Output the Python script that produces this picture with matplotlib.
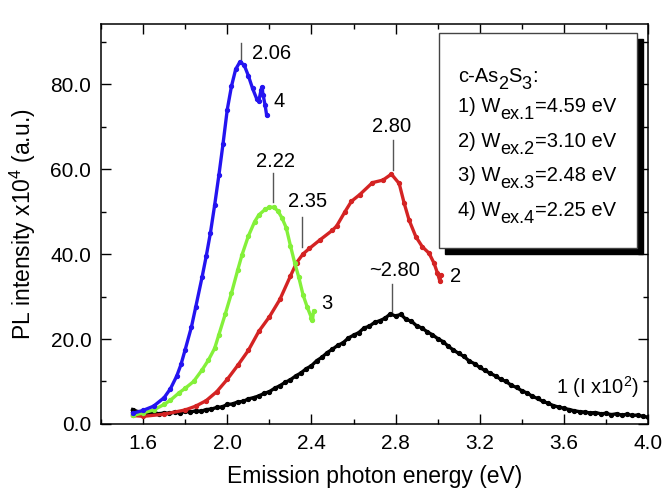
import matplotlib
matplotlib.use("Agg")
import matplotlib.pyplot as plt
from matplotlib.patches import Rectangle
from matplotlib.ticker import MultipleLocator, FormatStrFormatter

plt.rcParams['font.family'] = ['Liberation Sans', 'DejaVu Sans']
plt.rcParams['mathtext.fontset'] = 'custom'
plt.rcParams['mathtext.rm'] = 'Liberation Sans'
plt.rcParams['mathtext.it'] = 'Liberation Sans'
plt.rcParams['mathtext.bf'] = 'Liberation Sans'

# ---- data ----
x1 = [1.550, 1.575, 1.600, 1.625, 1.650, 1.675, 1.700, 1.725, 1.750, 1.775,
      1.800, 1.825, 1.850, 1.875, 1.900, 1.925, 1.950, 1.975, 2.000, 2.025,
      2.050, 2.075, 2.100, 2.125, 2.150, 2.175, 2.200, 2.225, 2.250, 2.275,
      2.300, 2.325, 2.350, 2.375, 2.400, 2.425, 2.450, 2.475, 2.500, 2.525,
      2.550, 2.575, 2.600, 2.625, 2.650, 2.675, 2.700, 2.725, 2.750, 2.775,
      2.800, 2.825, 2.850, 2.875, 2.900, 2.925, 2.950, 2.975, 3.000, 3.025,
      3.050, 3.075, 3.100, 3.125, 3.150, 3.175, 3.200, 3.225, 3.250, 3.275,
      3.300, 3.325, 3.350, 3.375, 3.400, 3.425, 3.450, 3.475, 3.500, 3.525,
      3.550, 3.575, 3.600, 3.625, 3.650, 3.675, 3.700, 3.725, 3.750, 3.775,
      3.800, 3.825, 3.850, 3.875, 3.900, 3.925, 3.950, 3.975, 4.000]
y1 = [3.4, 2.9, 2.7, 2.5, 2.7, 2.4, 2.6, 2.5, 2.8, 2.6,
      3.0, 2.8, 3.1, 3.0, 3.4, 3.5, 3.9, 4.0, 4.6, 4.7,
      5.2, 5.3, 5.9, 6.2, 6.6, 7.2, 7.6, 8.4, 9.0, 9.8,
      10.4, 11.3, 12.0, 13.0, 13.7, 14.9, 15.7, 16.8, 17.6, 18.5,
      19.1, 20.2, 20.9, 21.5, 22.6, 23.0, 23.9, 24.3, 24.9, 25.9,
      25.4, 25.8, 24.6, 24.2, 23.1, 22.6, 21.7, 21.0, 20.1, 19.4,
      18.3, 17.4, 16.6, 15.9, 14.8, 14.2, 13.3, 12.6, 11.9, 11.3,
      10.5, 10.0, 9.1, 8.6, 7.8, 7.3, 6.5, 6.0, 5.3, 4.9,
      4.3, 4.0, 3.7, 3.4, 3.1, 2.9, 2.8, 2.6, 2.7, 2.4,
      2.5, 2.2, 2.4, 2.1, 2.3, 2.0, 2.1, 1.8, 1.6]

x2 = [1.55, 1.60, 1.70, 1.80, 1.85, 1.90, 1.95, 2.00, 2.05, 2.10, 2.15, 2.20,
      2.25, 2.30, 2.33, 2.36, 2.39, 2.44, 2.50, 2.52, 2.56, 2.59, 2.63, 2.69, 2.74, 2.78,
      2.817, 2.841, 2.864, 2.896, 2.927, 2.959, 2.983, 2.999, 3.010, 3.015]
y2 = [2.0, 1.8, 2.3, 3.3, 4.2, 5.5, 7.6, 10.5, 13.8, 17.3, 21.8, 25.2,
      29.3, 34.8, 38.0, 40.0, 41.3, 43.3, 45.6, 46.6, 50.0, 52.4, 54.0, 56.8, 57.4, 58.8,
      56.6, 51.9, 48.0, 44.1, 41.7, 40.2, 37.8, 35.5, 33.7, 35.0]

x3 = [1.55, 1.60, 1.65, 1.70, 1.73, 1.77, 1.80, 1.84, 1.88, 1.91, 1.94, 1.96,
      1.99, 2.02, 2.05, 2.07, 2.10, 2.13, 2.15, 2.18, 2.20, 2.22, 2.24, 2.26,
      2.28, 2.30, 2.32, 2.34, 2.36, 2.38, 2.40, 2.405, 2.41]
y3 = [2.0, 2.6, 3.3, 4.6, 5.6, 7.3, 8.4, 10.0, 12.7, 15.0, 17.8, 21.0,
      25.8, 30.8, 36.3, 39.8, 44.2, 47.6, 49.2, 50.5, 51.0, 51.0, 50.2, 48.5,
      46.2, 42.0, 38.0, 34.5, 30.4, 27.5, 25.0, 24.5, 26.5]

x4 = [1.55, 1.60, 1.65, 1.70, 1.73, 1.76, 1.78, 1.80, 1.83, 1.85, 1.88, 1.90,
      1.92, 1.94, 1.96, 1.98, 2.00, 2.02, 2.04, 2.06, 2.08, 2.10, 2.12, 2.14,
      2.15, 2.16, 2.165, 2.17, 2.18, 2.187]
y4 = [2.5, 3.2, 4.2, 6.2, 8.3, 11.3, 14.0, 17.5, 22.9, 27.5, 34.5, 39.5,
      45.0, 51.5, 58.5, 66.0, 74.0, 79.5, 83.5, 85.2, 84.5, 82.0, 79.0, 76.5,
      76.0, 78.5, 79.2, 77.5, 75.0, 72.7]

# legend text pieces: (text, is_subscript)
legend_title = [("c-As", False), ("2", True), ("S", False), ("3", True), (":", False)]
legend_lines = [
    [("1) W", False), ("ex.1", True), ("=4.59 eV", False)],
    [("2) W", False), ("ex.2", True), ("=3.10 eV", False)],
    [("3) W", False), ("ex.3", True), ("=2.48 eV", False)],
    [("4) W", False), ("ex.4", True), ("=2.25 eV", False)],
]

fig = plt.figure(figsize=(6.62, 4.93), dpi=100)
ax = fig.add_axes([0.1526, 0.140, 0.8264, 0.811])

c_blk = '#000000'
c_red = '#d42323'
c_grn = '#84f03a'
c_blu = '#2414f0'

for xs, ys, c in [(x1, y1, c_blk), (x2, y2, c_red), (x3, y3, c_grn), (x4, y4, c_blu)]:
    ax.plot(xs, ys, '-', color=c, lw=2.4, marker='o', ms=2.8, mec=c, mfc=c, zorder=3)

ax.set_xlim(1.4, 4.0)
ax.set_ylim(0, 94.1)
ax.set_xticks([1.6, 2.0, 2.4, 2.8, 3.2, 3.6, 4.0])
ax.xaxis.set_minor_locator(MultipleLocator(0.2))
ax.yaxis.set_major_locator(MultipleLocator(20))
ax.yaxis.set_minor_locator(MultipleLocator(10))
ax.xaxis.set_major_formatter(FormatStrFormatter('%.1f'))
ax.yaxis.set_major_formatter(FormatStrFormatter('%.1f'))
ax.tick_params(which='both', direction='in', top=True, right=True, labelsize=15, width=1)
ax.tick_params(which='major', length=7, pad=7)
ax.tick_params(which='minor', length=3.5)
for s in ax.spines.values():
    s.set_linewidth(1.1)

ax.set_xlabel("Emission photon energy (eV)", fontsize=16.5, labelpad=9)
ax.set_ylabel(r"PL intensity x10$^4$ (a.u.)", fontsize=16.5, labelpad=9)

# peak annotations
fs_a = 14.5
gl = '#555555'
ax.plot([2.067, 2.067], [86.0, 89.7], color=gl, lw=1)
ax.text(2.116, 87.2, "2.06", fontsize=fs_a, ha='left', va='center')
ax.text(2.248, 75.8, "4", fontsize=fs_a, ha='center', va='center')
ax.plot([2.217, 2.217], [52.3, 59.0], color=gl, lw=1)
ax.text(2.231, 61.8, "2.22", fontsize=fs_a, ha='center', va='center')
ax.plot([2.357, 2.357], [41.7, 48.6], color=gl, lw=1)
ax.text(2.382, 52.3, "2.35", fontsize=fs_a, ha='center', va='center')
ax.text(2.473, 28.4, "3", fontsize=fs_a, ha='center', va='center')
ax.plot([2.789, 2.789], [59.8, 66.8], color=gl, lw=1)
ax.text(2.782, 69.9, "2.80", fontsize=fs_a, ha='center', va='center')
ax.plot([2.785, 2.785], [26.2, 32.9], color=gl, lw=1)
ax.text(2.797, 36.2, "~2.80", fontsize=fs_a, ha='center', va='center')
ax.text(3.083, 34.7, "2", fontsize=fs_a, ha='center', va='center')
ax.text(3.76, 8.6, r"1 (I x10$^2$)", fontsize=fs_a, ha='center', va='center')

# legend box with shadow
bx0, by0, bw, bh = 0.618, 0.44, 0.362, 0.5375
sh = Rectangle((bx0 + 0.011, by0 - 0.015), bw, bh, transform=ax.transAxes,
               facecolor='black', edgecolor='black', zorder=5, clip_on=False)
ax.add_patch(sh)
bx = Rectangle((bx0, by0), bw, bh, transform=ax.transAxes,
               facecolor='white', edgecolor='#444444', lw=1, zorder=6, clip_on=False)
ax.add_patch(bx)


def compose(x, y, parts, size):
    prev = None
    for s, sub in parts:
        fs = size * 0.9 if sub else size
        dy = -5 if sub else 0
        if prev is None:
            t = ax.annotate(s, xy=(x, y), xycoords='axes fraction', xytext=(0, dy),
                            textcoords='offset points', fontsize=fs, ha='left',
                            va='baseline', zorder=7)
        else:
            t = ax.annotate(s, xy=(1, y), xycoords=(prev, 'axes fraction'), xytext=(0, dy),
                            textcoords='offset points', fontsize=fs, ha='left',
                            va='baseline', zorder=7)
        prev = t


tx = (458 - 101) / 547
base_px = [81.7, 112.3, 146.5, 181.0, 215.7]
for parts, ypx in zip([legend_title] + legend_lines, base_px):
    compose(tx, (424 - ypx) / 400, parts, 14.5)

fig.savefig("out.png", dpi=100)
